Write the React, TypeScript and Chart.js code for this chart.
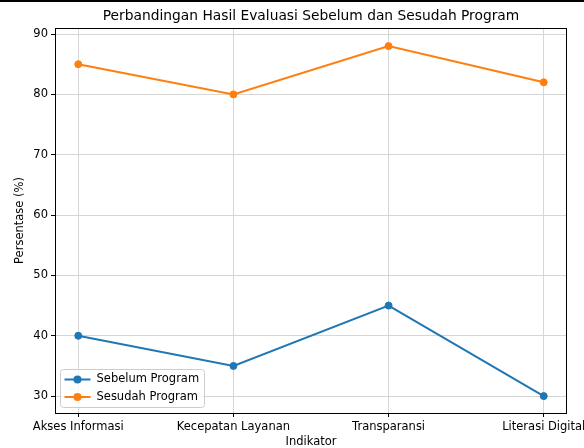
import React, { useEffect, useRef } from "react";
import { Chart, registerables } from "chart.js";

Chart.register(...registerables);

const categories = ["Akses Informasi", "Kecepatan Layanan", "Transparansi", "Literasi Digital"];
const sebelum = [40, 35, 45, 30];
const sesudah = [85, 80, 88, 82];
const yTicks = [30, 40, 50, 60, 70, 80, 90];
const seriesNames = ["Sebelum Program", "Sesudah Program"];
const seriesColors = ["#1f77b4", "#ff7f0e"];
const titleText = "Perbandingan Hasil Evaluasi Sebelum dan Sesudah Program";
const xTitle = "Indikator";
const yTitle = "Persentase (%)";

const FONT = "'DejaVu Sans', sans-serif";
const FS = 11.5;

const decorPlugin = {
  id: "decor",
  afterDraw(chart: any) {
    const ctx = chart.ctx;
    const a = chart.chartArea;
    ctx.save();
    // spines
    ctx.strokeStyle = "#000";
    ctx.lineWidth = 1;
    const L = Math.round(a.left) + 0.5, R = Math.round(a.right) - 0.5;
    const T = Math.round(a.top) + 0.5, B = Math.round(a.bottom) + 0.5;
    ctx.strokeRect(L, T, R - L, B - T);
    // title
    ctx.fillStyle = "#000";
    ctx.textAlign = "center";
    ctx.textBaseline = "middle";
    ctx.font = `13.8px ${FONT}`;
    ctx.fillText(titleText, (a.left + a.right) / 2, 16);
    // axis titles
    ctx.font = `${FS}px ${FONT}`;
    ctx.fillText(xTitle, (a.left + a.right) / 2, 442);
    ctx.save();
    ctx.translate(20, (a.top + a.bottom) / 2);
    ctx.rotate(-Math.PI / 2);
    ctx.fillText(yTitle, 0, 0);
    ctx.restore();
    // legend
    const bx = a.left + 5.5, by = 369.5, bw = 144, bh = 38, r = 3;
    ctx.beginPath();
    ctx.moveTo(bx + r, by);
    ctx.lineTo(bx + bw - r, by);
    ctx.quadraticCurveTo(bx + bw, by, bx + bw, by + r);
    ctx.lineTo(bx + bw, by + bh - r);
    ctx.quadraticCurveTo(bx + bw, by + bh, bx + bw - r, by + bh);
    ctx.lineTo(bx + r, by + bh);
    ctx.quadraticCurveTo(bx, by + bh, bx, by + bh - r);
    ctx.lineTo(bx, by + r);
    ctx.quadraticCurveTo(bx, by, bx + r, by);
    ctx.closePath();
    ctx.fillStyle = "rgba(255,255,255,0.8)";
    ctx.fill();
    ctx.strokeStyle = "#cccccc";
    ctx.stroke();
    seriesNames.forEach((name, i) => {
      const y = 379.5 + i * 17.5;
      ctx.strokeStyle = seriesColors[i];
      ctx.lineWidth = 2;
      ctx.beginPath();
      ctx.moveTo(bx + 4, y);
      ctx.lineTo(bx + 30, y);
      ctx.stroke();
      ctx.fillStyle = seriesColors[i];
      ctx.beginPath();
      ctx.arc(bx + 17, y, 4, 0, Math.PI * 2);
      ctx.fill();
      ctx.fillStyle = "#000";
      ctx.textAlign = "left";
      ctx.font = `${FS}px ${FONT}`;
      ctx.fillText(name, bx + 36, y);
    });
    ctx.restore();
  },
};

export default function App() {
  const ref = useRef<HTMLCanvasElement | null>(null);
  useEffect(() => {
    if (!ref.current) return;
    const mk = (vals: number[], i: number) => ({
      label: seriesNames[i],
      data: vals.map((v, k) => ({ x: k, y: v })),
      borderColor: seriesColors[i],
      backgroundColor: seriesColors[i],
      borderWidth: 2,
      pointRadius: 3.5,
      pointBorderWidth: 1,
      tension: 0,
    });
    const chart = new Chart(ref.current, {
      type: "line",
      data: { datasets: [mk(sebelum, 0), mk(sesudah, 1)] },
      options: {
        animation: false,
        responsive: false,
        devicePixelRatio: 1,
        layout: { padding: { top: 28, right: 17, left: 0, bottom: 0 } },
        plugins: { legend: { display: false }, title: { display: false }, tooltip: { enabled: false } },
        scales: {
          x: {
            type: "linear",
            min: -0.15,
            max: 3.15,
            afterBuildTicks: (s: any) => {
              s.ticks = categories.map((_, i) => ({ value: i }));
            },
            afterFit: (s: any) => {
              s.height = 35;
              s.paddingLeft = 0;
              s.paddingRight = 0;
            },
            ticks: {
              callback: (v: any) => categories[v] ?? "",
              autoSkip: false,
              maxRotation: 0,
              padding: 3,
              color: "#000",
              font: { family: FONT, size: FS },
            },
            grid: { color: "#d6d6d6", tickColor: "#000", tickLength: 4 },
            border: { display: false },
          },
          y: {
            type: "linear",
            min: 27.2,
            max: 91.0,
            afterBuildTicks: (s: any) => {
              s.ticks = yTicks.map((v) => ({ value: v }));
            },
            afterFit: (s: any) => {
              s.width = 55;
              s.paddingTop = 0;
              s.paddingBottom = 0;
            },
            ticks: {
              padding: 3,
              color: "#000",
              font: { family: FONT, size: FS },
            },
            grid: { color: "#d6d6d6", tickColor: "#000", tickLength: 4 },
            border: { display: false },
          },
        },
      } as any,
      plugins: [decorPlugin],
    });
    return () => chart.destroy();
  }, []);
  return (
    <div style={{ position: "fixed", left: 0, top: 0, width: 584, height: 448, background: "#fff" }}>
      <canvas ref={ref} width={584} height={448} style={{ display: "block" }} />
      <div style={{ position: "absolute", left: 0, top: 0, width: 584, height: 2, background: "#000" }} />
    </div>
  );
}
